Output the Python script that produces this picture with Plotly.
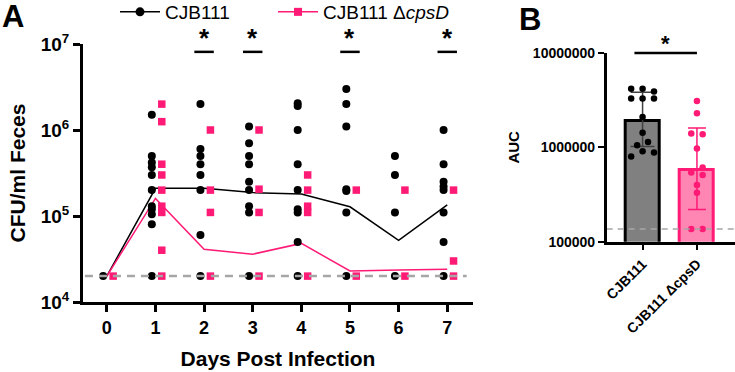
import plotly.graph_objects as go
import numpy as np

# ---------------- Panel A data ----------------
days = [0, 1, 2, 3, 4, 5, 6, 7]
day_labels = ["0", "1", "2", "3", "4", "5", "6", "7"]

wt_day0 = [2e4]
wt_day1 = [1.5e6, 5e5, 4.2e5, 3.7e5, 3e5, 2e5, 1.3e5, 1.2e5, 1.05e5, 8e4, 2e4]
wt_day2 = [2e6, 6e5, 5e5, 4e5, 3e5, 2e5, 6e4, 2e4]
wt_day3 = [1.1e6, 7e5, 5e5, 4e5, 2.5e5, 2e5, 1.3e5, 1.1e5, 2e4]
wt_day4 = [2.05e6, 1.9e6, 1e6, 4e5, 2e5, 1.2e5, 1.1e5, 5e4, 2e4]
wt_day5 = [3e6, 2e6, 1.1e6, 2.05e5, 1.95e5, 1.1e5, 2e4]
wt_day6 = [5e5, 3e5, 1.1e5, 2e4]
wt_day7 = [1e6, 4e5, 2.5e5, 2.2e5, 2e5, 1.1e5, 5e4, 2e4]
wt_points = [wt_day0, wt_day1, wt_day2, wt_day3, wt_day4, wt_day5, wt_day6, wt_day7]

mut_day0 = [2e4]
mut_day1 = [2e6, 1.25e6, 4e5, 3e5, 2e5, 1.3e5, 1.1e5, 4e4, 2e4]
mut_day2 = [1e6, 2e5, 1.1e5, 2e4]
mut_day3 = [1e6, 2.05e5, 1.1e5, 2e4]
mut_day4 = [3e5, 2e5, 1.3e5, 1.1e5, 2e4]
mut_day5 = [2e5, 2e4]
mut_day6 = [2e5, 2e4]
mut_day7 = [2e5, 3e4, 2e4]
mut_points = [mut_day0, mut_day1, mut_day2, mut_day3, mut_day4, mut_day5, mut_day6, mut_day7]

wt_mean = [2e4, 2.1e5, 2.1e5, 1.87e5, 1.8e5, 1.28e5, 5.2e4, 1.35e5]
mut_mean = [2e4, 1.6e5, 4.1e4, 3.6e4, 4.8e4, 2.3e4, 2.35e4, 2.4e4]

lod_a = 2e4
sig_days = [2, 3, 5, 7]
sig_level_a = 8.1e6

# ---------------- Panel B data ----------------
groups = ["CJB111", "CJB111 ΔcpsD"]
auc_mean = [1.9e6, 5.8e5]
auc_upper = [3.84e6, 1.6e6]
auc_lower = [1.02e6, 2.2e5]
wt_auc = [4.17e6, 4.17e6, 3.9e6, 3.3e6, 3.3e6, 3.3e6, 2.1e6, 1.43e6, 1.14e6, 1.05e6, 9.1e5, 8.8e5, 8.0e5]
mut_auc = [3.1e6, 2.3e6, 1.4e6, 1.38e6, 9.7e5, 6.1e5, 5.4e5, 5.1e5, 4.0e5, 3.3e5, 1.36e5, 1.36e5]
lod_b = 1.36e5

# styling (jitter offsets)
wt_jit = [-0.21, 0, 0.21, -0.21, 0, 0.21, 0, 0, 0.1, -0.1, 0, 0.21, -0.21]
mut_jit = [0, 0, -0.105, 0.105, 0, 0.105, -0.105, 0.105, 0, 0, -0.105, 0.105]

BLACK = "#000000"
PINK = "#ff1a75"
PINK_FILL = "#ff85b3"
GRAY_BAR = "#808080"
FONT = "Liberation Sans, Arial, sans-serif"

fig = go.Figure()

wt_x, wt_y, mut_x, mut_y = [], [], [], []
for d, pts in zip(days, wt_points):
    wt_x += [d - 0.075] * len(pts)
    wt_y += pts
for d, pts in zip(days, mut_points):
    mut_x += [d + 0.13] * len(pts)
    mut_y += pts

# mean lines
fig.add_trace(go.Scatter(x=days, y=wt_mean, mode="lines", line=dict(color=BLACK, width=1.5),
                         showlegend=False, xaxis="x", yaxis="y"))
fig.add_trace(go.Scatter(x=days, y=mut_mean, mode="lines", line=dict(color=PINK, width=1.5),
                         showlegend=False, xaxis="x", yaxis="y"))
# points
fig.add_trace(go.Scatter(x=wt_x, y=wt_y, mode="markers",
                         marker=dict(symbol="circle", size=8, color=BLACK),
                         showlegend=False, xaxis="x", yaxis="y"))
fig.add_trace(go.Scatter(x=mut_x, y=mut_y, mode="markers",
                         marker=dict(symbol="square", size=7.5, color=PINK),
                         showlegend=False, xaxis="x", yaxis="y"))
# LOD dashed line (drawn on top)
fig.add_trace(go.Scatter(x=[-0.45, 7.4], y=[lod_a, lod_a], mode="lines",
                         line=dict(color="#a6a6a6", width=2.5, dash="8px,6px"),
                         showlegend=False, xaxis="x", yaxis="y", hoverinfo="skip"))
# significance bars
for d in sig_days:
    fig.add_trace(go.Scatter(x=[d - 0.2, d + 0.2], y=[sig_level_a, sig_level_a], mode="lines",
                             line=dict(color=BLACK, width=2.5), showlegend=False,
                             xaxis="x", yaxis="y", hoverinfo="skip"))
    fig.add_annotation(x=d, y=np.log10(sig_level_a), xref="x", yref="y", text="<b>*</b>",
                       showarrow=False, yshift=14, font=dict(size=26, color=BLACK, family=FONT))

# legend entries (two separate legends for free placement)
fig.add_trace(go.Scatter(x=[None], y=[None], mode="lines+markers", name="CJB111",
                         line=dict(color=BLACK, width=1.5), legend="legend",
                         marker=dict(symbol="circle", size=9, color=BLACK), xaxis="x", yaxis="y"))
fig.add_trace(go.Scatter(x=[None], y=[None], mode="lines+markers", name="CJB111 Δ<i>cpsD</i>",
                         line=dict(color=PINK, width=1.5), legend="legend2",
                         marker=dict(symbol="square", size=8, color=PINK), xaxis="x", yaxis="y"))

# ---------------- Panel B ----------------
gx = [0, 1]
fig.add_trace(go.Bar(x=gx, y=auc_mean, width=0.62,
                     marker=dict(color=[GRAY_BAR, PINK_FILL], line=dict(color=[BLACK, PINK], width=3)),
                     showlegend=False, xaxis="x2", yaxis="y2"))
fig.add_trace(go.Scatter(x=[0], y=[auc_mean[0]], mode="markers", marker=dict(size=0.1, color="rgba(0,0,0,0)"),
                         error_y=dict(type="data", symmetric=False,
                                      array=[auc_upper[0] - auc_mean[0]],
                                      arrayminus=[auc_mean[0] - auc_lower[0]],
                                      color="#404040", thickness=1.5, width=12),
                         showlegend=False, xaxis="x2", yaxis="y2"))
fig.add_trace(go.Scatter(x=[1], y=[auc_mean[1]], mode="markers", marker=dict(size=0.1, color="rgba(0,0,0,0)"),
                         error_y=dict(type="data", symmetric=False,
                                      array=[auc_upper[1] - auc_mean[1]],
                                      arrayminus=[auc_mean[1] - auc_lower[1]],
                                      color=PINK, thickness=1.5, width=9),
                         showlegend=False, xaxis="x2", yaxis="y2"))
fig.add_trace(go.Scatter(x=[0 + j for j in wt_jit], y=wt_auc, mode="markers",
                         marker=dict(size=6.5, color=BLACK), showlegend=False, xaxis="x2", yaxis="y2"))
fig.add_trace(go.Scatter(x=[1 + j for j in mut_jit], y=mut_auc, mode="markers",
                         marker=dict(size=6.5, color=PINK), showlegend=False, xaxis="x2", yaxis="y2"))
fig.add_trace(go.Scatter(x=[-0.66, 1.7], y=[lod_b, lod_b], mode="lines",
                         line=dict(color="#a6a6a6", width=1.5, dash="6px,5px"),
                         showlegend=False, xaxis="x2", yaxis="y2", hoverinfo="skip"))
# significance in B
fig.add_shape(type="line", xref="x2", yref="y2 domain", x0=-0.15, x1=1.0, y0=1.0, y1=1.0,
              line=dict(color=BLACK, width=2.5))
fig.add_annotation(x=0.43, y=7, xref="x2", yref="y2", text="<b>*</b>", showarrow=False,
                   yshift=9, font=dict(size=22, color=BLACK, family=FONT))

# panel letters
fig.add_annotation(x=13 / 735, y=1 - 17 / 372, xref="paper", yref="paper", text="<b>A</b>",
                   xanchor="center", yanchor="middle",
                   showarrow=False, font=dict(size=31, color=BLACK, family=FONT))
fig.add_annotation(x=530 / 735, y=1 - 20 / 372, xref="paper", yref="paper", text="<b>B</b>",
                   xanchor="center", yanchor="middle",
                   showarrow=False, font=dict(size=31, color=BLACK, family=FONT))

axis_common = dict(showgrid=False, zeroline=False, showline=True, linecolor=BLACK,
                   ticks="outside", tickcolor=BLACK, mirror=False, automargin=False)

legend_common = dict(orientation="h", y=1 - 12 / 372, xanchor="left", yanchor="middle",
                     font=dict(size=19, family=FONT), bgcolor="rgba(0,0,0,0)", itemwidth=40)

fig.update_layout(
    width=735, height=372,
    margin=dict(l=0, r=0, t=0, b=0, autoexpand=False),
    paper_bgcolor="white", plot_bgcolor="white",
    font=dict(family=FONT, color=BLACK),
    bargap=0,
    xaxis=dict(domain=[83 / 735, 473 / 735], range=[-0.49, 7.53], tickvals=days, ticktext=day_labels,
               linewidth=3, ticklen=7, tickwidth=2.5,
               tickfont=dict(size=18, weight="bold"),
               title=dict(text="Days Post Infection", font=dict(size=21, weight="bold"), standoff=15),
               **axis_common),
    yaxis=dict(domain=[70 / 372, 328 / 372], type="log", range=[4, 7],
               tickvals=[1e4, 1e5, 1e6, 1e7],
               ticktext=["10<sup>4</sup>", "10<sup>5</sup>", "10<sup>6</sup>", "10<sup>7</sup>"],
               linewidth=3, ticklen=7, tickwidth=2.5,
               tickfont=dict(size=19, weight="bold"),
               title=dict(text="CFU/ml Feces", font=dict(size=21, weight="bold"), standoff=10),
               **axis_common),
    xaxis2=dict(domain=[606.7 / 735, 1.0], range=[-0.66, 1.7], tickvals=gx, ticktext=groups,
                tickangle=-45, linewidth=2.5, ticklen=6, tickwidth=2,
                tickfont=dict(size=14, weight="bold"), anchor="y2", **axis_common),
    yaxis2=dict(domain=[130.3 / 372, 319 / 372], type="log", range=[5, 7],
                tickvals=[1e5, 1e6, 1e7], ticktext=["100000", "1000000", "10000000"],
                linewidth=2.5, ticklen=6, tickwidth=2,
                tickfont=dict(size=14, weight="bold"),
                title=dict(text="AUC", font=dict(size=15, weight="bold"), standoff=10),
                anchor="x2", **axis_common),
    legend=dict(x=115 / 735, **legend_common),
    legend2=dict(x=273 / 735, **legend_common),
)

fig.write_html("out.html")
